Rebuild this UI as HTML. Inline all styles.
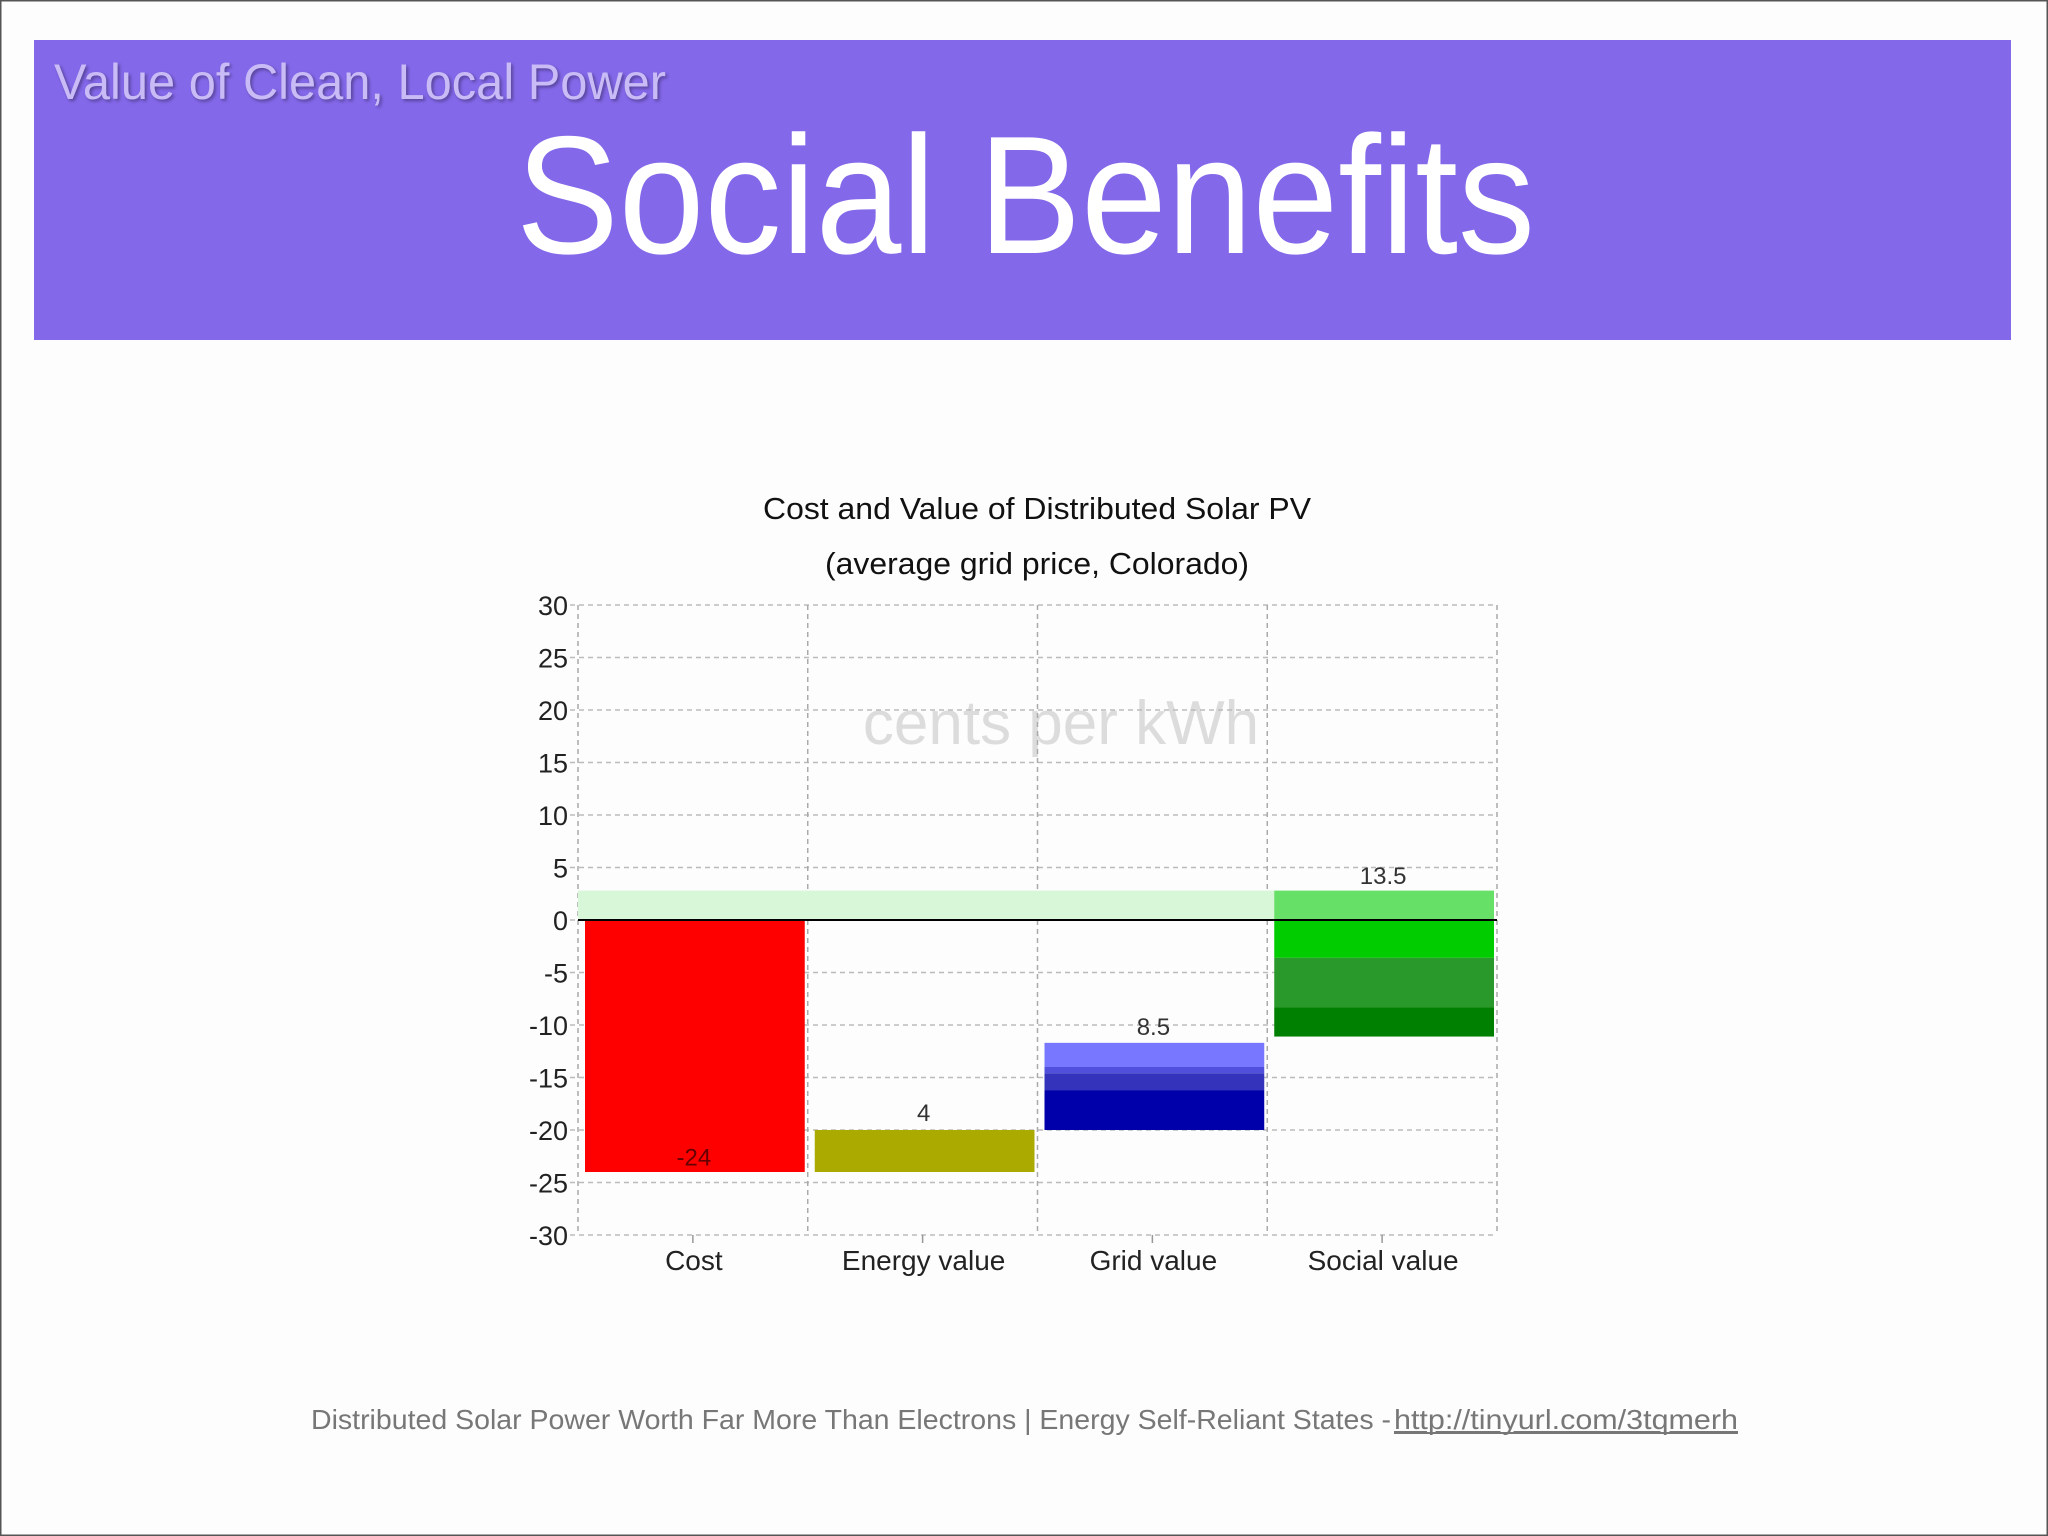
<!DOCTYPE html>
<html><head><meta charset="utf-8"><style>
html,body{margin:0;padding:0;background:#fdfdfd}
svg{display:block}
text{font-family:"Liberation Sans",sans-serif}
</style></head><body>
<svg id="s" width="2048" height="1536" viewBox="0 0 2048 1536" xmlns="http://www.w3.org/2000/svg">
<rect x="0" y="0" width="2048" height="1536" fill="#fdfdfd" stroke="#555" stroke-width="3"/>
<rect x="34" y="40" width="1977" height="300" fill="#8468ea"/>
<text x="54" y="99" font-size="50" fill="#c9bcf6" textLength="612" lengthAdjust="spacingAndGlyphs" style="text-shadow:2px 2px 3px rgba(0,0,0,0.35)">Value of Clean, Local Power</text>
<text x="516" y="253" font-size="168" fill="#ffffff" textLength="1019" lengthAdjust="spacingAndGlyphs">Social Benefits</text>
<g id="chart"></g>
<text x="311" y="1429" font-size="28" fill="#777" textLength="1080" lengthAdjust="spacingAndGlyphs">Distributed Solar Power Worth Far More Than Electrons | Energy Self-Reliant States -</text>
<text x="1394" y="1429" font-size="28" fill="#777" text-decoration="underline" textLength="344" lengthAdjust="spacingAndGlyphs">http://tinyurl.com/3tqmerh</text>
<line x1="1394" y1="1433" x2="1738" y2="1433" stroke="#777" stroke-width="2"/>
</svg>
<script>
const categories = ["Cost", "Energy value", "Grid value", "Social value"];
const yTicks = [30, 25, 20, 15, 10, 5, 0, -5, -10, -15, -20, -25, -30];
const costSegments = [[0, -24]];
const energySegments = [[-20, -24]];
const gridSegments = [[-11.7, -14.0], [-14.0, -14.6], [-14.6, -16.2], [-16.2, -20]];
const socialSegments = [[2.8, 0], [0, -3.6], [-3.6, -8.3], [-8.3, -11.1]];
const valueLabels = ["-24", "4", "8.5", "13.5"];
const labelValues = [-22.6, -18.4, -10.2, 4.2];
const bandRange = [0, 2.8];

const NS = "http://www.w3.org/2000/svg";
const g = document.getElementById("chart");
const X0 = 578, X1 = 1497, Y_TOP = 605, Y_BOT = 1235, VMAX = 30, VMIN = -30;
const bw = (X1 - X0) / categories.length;
function y(v){ return Y_TOP + (VMAX - v) / (VMAX - VMIN) * (Y_BOT - Y_TOP); }
function xc(i){ return X0 + bw * i; }
function mk(tag, attrs){ const e = document.createElementNS(NS, tag); for (const k in attrs) e.setAttribute(k, attrs[k]); g.appendChild(e); return e; }

let t = mk("text", {x: 1037, y: 519, "font-size": 31, "text-anchor": "middle", fill: "#111", textLength: 548, lengthAdjust: "spacingAndGlyphs"});
t.textContent = "Cost and Value of Distributed Solar PV";


t = mk("text", {x: 1037, y: 574, "font-size": 31, "text-anchor": "middle", fill: "#111", textLength: 424, lengthAdjust: "spacingAndGlyphs"});
t.textContent = "(average grid price, Colorado)";



t = mk("text", {x: 1061, y: 744, "font-size": 62, "text-anchor": "middle", fill: "#dcdcdc"});
t.textContent = "cents per kWh";



yTicks.forEach(v => {
  const l = mk("line", {x1: X0 - 8, x2: X1, y1: y(v), y2: y(v), stroke: "#bbb", "stroke-width": 1.5, "stroke-dasharray": "5,4"});
  
  
  const tx = mk("text", {x: 568, y: y(v) + 10, "font-size": 27, "text-anchor": "end", fill: "#222"});
  tx.textContent = v;
  
  
});
for (let i = 0; i <= categories.length; i++) {
  const l = mk("line", {x1: xc(i), x2: xc(i), y1: Y_TOP, y2: Y_BOT, stroke: "#aaa", "stroke-width": 1.5, "stroke-dasharray": "5,4"});
  
  
}

const band = mk("rect", {x: X0, y: y(bandRange[1]), width: xc(3) + 7 - X0, height: y(bandRange[0]) - y(bandRange[1]), fill: "#d8f7d8"});



const series = [
  [costSegments, ["#ff0000"]],
  [energySegments, ["#aaaa00"]],
  [gridSegments, ["#7777ff", "#5050dd", "#3333bb", "#0000aa"]],
  [socialSegments, ["#66e066", "#00cc00", "#28992a", "#008000"]]
];
series.forEach((s, i) => {
  s[0].forEach((seg, j) => {
    const top = Math.max(seg[0], seg[1]), bot = Math.min(seg[0], seg[1]);
    const r = mk("rect", {x: xc(i) + 7, y: y(top), width: bw - 10, height: y(bot) - y(top), fill: s[1][j]});
    
    
  });
  const lb = mk("text", {x: xc(i) + bw / 2 + 1, y: y(labelValues[i]) + 8, "font-size": 24, "text-anchor": "middle", fill: i === 0 ? "#660000" : "#333"});
  lb.textContent = valueLabels[i];
  
  
  const cl = mk("text", {x: xc(i) + bw / 2 + 1, y: 1270, "font-size": 28, "text-anchor": "middle", fill: "#222"});
  cl.textContent = categories[i];
  
  
  const tk = mk("line", {x1: xc(i) + bw / 2, x2: xc(i) + bw / 2, y1: Y_BOT, y2: Y_BOT + 8, stroke: "#999", "stroke-width": 1.5});
  
  
});

const zl = mk("line", {x1: X0, x2: X1, y1: y(0), y2: y(0), stroke: "#000", "stroke-width": 2});


</script>
</body></html>
